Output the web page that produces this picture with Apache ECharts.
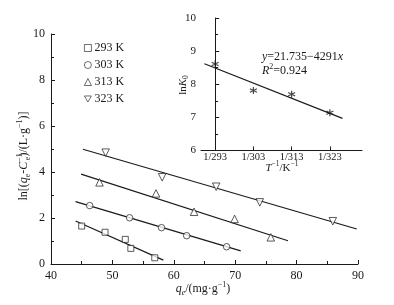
<!DOCTYPE html>
<html><head><meta charset="utf-8">
<script src="https://cdn.jsdelivr.net/npm/echarts@6/dist/echarts.min.js"></script>
<style>html,body{margin:0;padding:0;background:#fff}#c{width:394px;height:305px}</style>
</head><body><div id="c"></div>
<script>
// ---- data ----
const tempLabels = ['293 K', '303 K', '313 K', '323 K'];
const qe293 = [45.0, 48.8, 52.1, 53.0, 56.9];
const ln293 = [1.65, 1.38, 1.07, 0.68, 0.27];
const qe303 = [46.3, 52.8, 58.0, 62.1, 68.6];
const ln303 = [2.54, 2.01, 1.58, 1.23, 0.75];
const qe313 = [47.9, 57.1, 63.3, 69.9, 75.8];
const ln313 = [3.55, 3.07, 2.27, 1.96, 1.16];
const qe323 = [48.9, 58.1, 66.9, 74.0, 85.9];
const ln323 = [4.84, 3.77, 3.36, 2.68, 1.86];
// fitted line end points
const fitX293 = [44.0, 58.3], fitY293 = [1.87, 0.17];
const fitX303 = [44.0, 70.9], fitY303 = [2.71, 0.57];
const fitX313 = [44.9, 78.6], fitY313 = [3.91, 1.01];
const fitX323 = [45.2, 89.8], fitY323 = [4.99, 1.52];
// inset (van't Hoff)
const invTLabels = ['1/293', '1/303', '1/313', '1/323'];
const invTPos = [0, 1, 2, 3];
const lnK0 = [8.61, 7.81, 7.70, 7.14];
const fitInsetX = [-0.28, 3.33], fitInsetY = [8.62, 6.97];
const mainXTicks = [40, 50, 60, 70, 80, 90];

const zip = (a, b) => a.map((v, i) => [v, b[i]]);
const FONT = 'Liberation Serif';
const black = '#1a1a1a';
const TRI_DOWN = 'path://M0,0L10,0L5,8.66Z';

const chart = echarts.init(document.getElementById('c'));
const markerStyle = {color: '#fff', borderColor: black, borderWidth: 0.9};
const fitLine = (x, y) => ({
  type: 'line', data: zip(x, y), symbol: 'none', silent: true,
  lineStyle: {color: black, width: 1.2}, xAxisIndex: 0, yAxisIndex: 0, z: 2
});
const axisCommon = {
  axisLine: {lineStyle: {color: black, width: 1}},
  axisTick: {inside: true, length: 4, lineStyle: {color: black}},
  minorTick: {show: true, splitNumber: 2, length: 3, lineStyle: {color: black}},
  splitLine: {show: false},
  axisLabel: {color: black, fontFamily: FONT, fontSize: 12}
};

chart.setOption({
  animation: false,
  backgroundColor: '#fff',
  grid: [
    {left: 51, right: 36, top: 34, bottom: 41},
    {left: 201, right: 32, top: 18, bottom: 154.5}
  ],
  legend: {
    data: tempLabels, orient: 'vertical', left: 79, top: 37,
    itemWidth: 7, itemHeight: 7, itemGap: 5,
    itemStyle: {borderWidth: 0.8, borderColor: black, color: '#fff'},
    textStyle: {fontFamily: FONT, fontSize: 12, lineHeight: 12, color: black, padding: [0, 0, 0, -2]}
  },
  xAxis: [
    Object.assign({}, axisCommon, {type: 'value', gridIndex: 0, min: 40, max: 90, interval: 10,
      axisLabel: Object.assign({}, axisCommon.axisLabel, {margin: 6, customValues: mainXTicks})}),
    {type: 'value', gridIndex: 1, min: -0.37, max: 3.84,
      axisLine: {lineStyle: {color: black}},
      axisTick: {inside: true, length: 4, lineStyle: {color: black}, customValues: invTPos},
      splitLine: {show: false},
      axisLabel: {color: black, fontFamily: FONT, fontSize: 10.5, margin: 1, customValues: invTPos,
        formatter: v => invTLabels[Math.round(v)]}}
  ],
  yAxis: [
    Object.assign({}, axisCommon, {type: 'value', gridIndex: 0, min: 0, max: 10, interval: 2,
      axisLabel: Object.assign({}, axisCommon.axisLabel, {margin: 6})}),
    Object.assign({}, axisCommon, {type: 'value', gridIndex: 1, min: 6, max: 10, interval: 1,
      axisLabel: Object.assign({}, axisCommon.axisLabel, {fontSize: 11, margin: 5})})
  ],
  series: [
    fitLine(fitX293, fitY293), fitLine(fitX303, fitY303),
    fitLine(fitX313, fitY313), fitLine(fitX323, fitY323),
    {name: tempLabels[0], type: 'scatter', data: zip(qe293, ln293), symbol: 'rect', symbolSize: 6, itemStyle: markerStyle, z: 3},
    {name: tempLabels[1], type: 'scatter', data: zip(qe303, ln303), symbol: 'circle', symbolSize: 6.5, itemStyle: markerStyle, z: 3},
    {name: tempLabels[2], type: 'scatter', data: zip(qe313, ln313), symbol: 'triangle', symbolSize: 7.5, itemStyle: markerStyle, z: 3},
    {name: tempLabels[3], type: 'scatter', data: zip(qe323, ln323), symbol: TRI_DOWN, symbolSize: 7.5, itemStyle: markerStyle, z: 3},
    {type: 'line', xAxisIndex: 1, yAxisIndex: 1, data: zip(fitInsetX, fitInsetY), symbol: 'none',
      lineStyle: {color: black, width: 1.2}, z: 2},
    {type: 'scatter', xAxisIndex: 1, yAxisIndex: 1, data: zip(invTPos, lnK0),
      symbol: 'path://M0,-5L0,5M-4.33,-2.5L4.33,2.5M-4.33,2.5L4.33,-2.5', symbolSize: 7,
      itemStyle: {color: 'none', borderColor: black, borderWidth: 1.2}, z: 3}
  ],
  graphic: [
    {type: 'text', x: 24, y: 156, rotation: Math.PI / 2, style: {
      text: 'ln[({i|q}{sub|e}-{i|C}{sup|−1}{sub2|e})/(L·g{sup|−1})]',
      fontFamily: FONT, fontSize: 12, fill: black, align: 'center', verticalAlign: 'middle',
      rich: {
        i: {fontStyle: 'italic', fontFamily: FONT, fontSize: 12, lineHeight: 16},
        sub: {fontFamily: FONT, fontSize: 8, verticalAlign: 'bottom', lineHeight: 16},
        sub2: {fontFamily: FONT, fontSize: 8, verticalAlign: 'bottom', lineHeight: 16, padding: [0, 0, 0, -7]},
        sup: {fontFamily: FONT, fontSize: 8, verticalAlign: 'top', lineHeight: 16}
      }}},
    {type: 'text', x: 203, y: 289, style: {
      text: '{i|q}{sub|e}/(mg·g{sup|−1})',
      fontFamily: FONT, fontSize: 12, fill: black, align: 'center', verticalAlign: 'middle',
      rich: {
        i: {fontStyle: 'italic', fontFamily: FONT, fontSize: 12, lineHeight: 16},
        sub: {fontStyle: 'italic', fontFamily: FONT, fontSize: 8, verticalAlign: 'bottom', lineHeight: 16},
        sup: {fontFamily: FONT, fontSize: 8, verticalAlign: 'top', lineHeight: 16}
      }}},
    {type: 'text', x: 282, y: 168, style: {
      text: '{i|T}{sup|−1}/K{sup|−1}',
      fontFamily: FONT, fontSize: 11, fill: black, align: 'center', verticalAlign: 'middle',
      rich: {
        i: {fontStyle: 'italic', fontFamily: FONT, fontSize: 11, lineHeight: 15},
        sup: {fontFamily: FONT, fontSize: 7.5, verticalAlign: 'top', lineHeight: 15}
      }}},
    {type: 'text', x: 183, y: 85, rotation: Math.PI / 2, style: {
      text: 'ln{i|K}{sub|0}',
      fontFamily: FONT, fontSize: 11, fill: black, align: 'center', verticalAlign: 'middle',
      rich: {
        i: {fontStyle: 'italic', fontFamily: FONT, fontSize: 11, lineHeight: 15},
        sub: {fontFamily: FONT, fontSize: 7.5, verticalAlign: 'bottom', lineHeight: 15}
      }}},
    {type: 'text', x: 262, y: 57, style: {
      text: '{i|y}=21.735−4291{i|x}',
      fontFamily: FONT, fontSize: 12, fill: black, align: 'left', verticalAlign: 'middle',
      rich: {i: {fontStyle: 'italic', fontFamily: FONT, fontSize: 12, lineHeight: 16}}}},
    {type: 'text', x: 262, y: 71, style: {
      text: '{i|R}{sup|2}=0.924',
      fontFamily: FONT, fontSize: 12, fill: black, align: 'left', verticalAlign: 'middle',
      rich: {
        i: {fontStyle: 'italic', fontFamily: FONT, fontSize: 12, lineHeight: 16},
        sup: {fontFamily: FONT, fontSize: 8, verticalAlign: 'top', lineHeight: 16}
      }}}
  ]
});
</script>
</body></html>
